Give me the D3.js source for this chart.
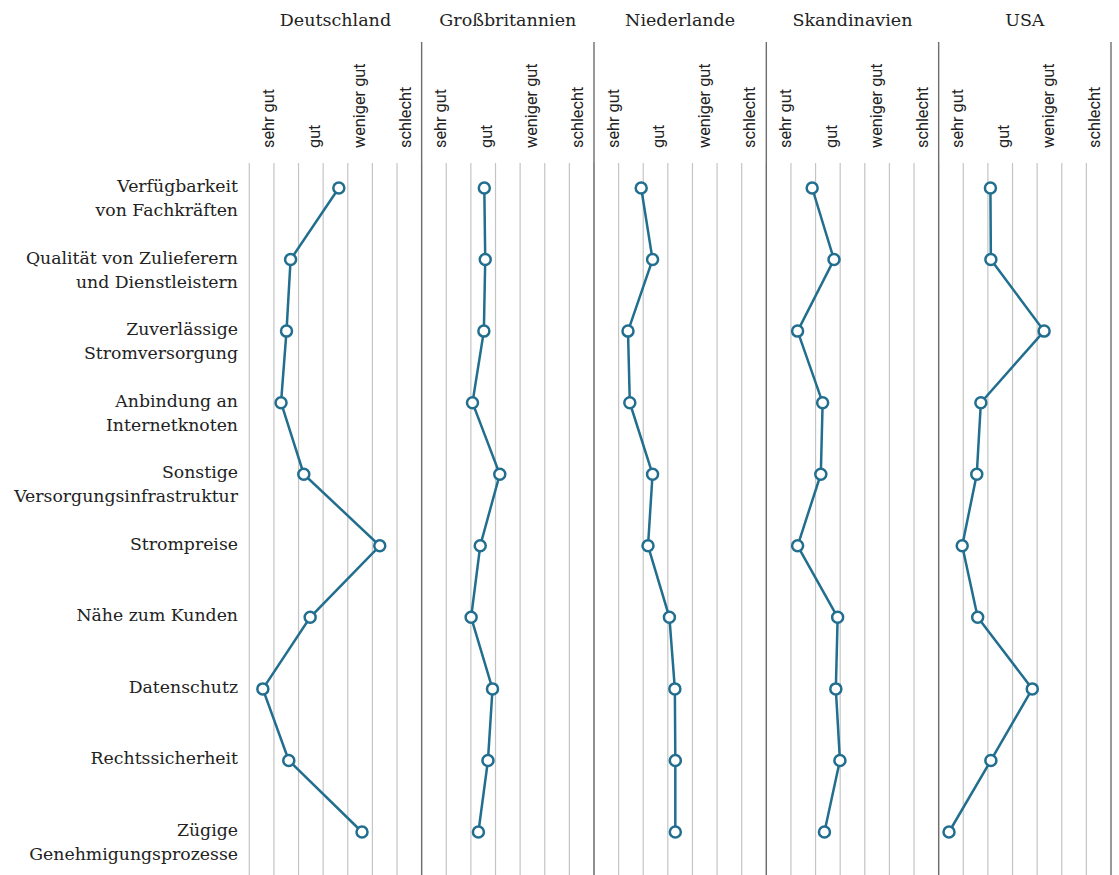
<!DOCTYPE html>
<html>
<head>
<meta charset="utf-8">
<script src="https://cdn.jsdelivr.net/npm/d3@7"></script>
<style>
  body { margin: 0; background: #fff; }
  svg { display: block; }
</style>
</head>
<body>
<svg width="1119" height="875"></svg>
<script>
// rows (factors), top to bottom; "\n" splits label lines
var factors = [
  "Verfügbarkeit\nvon Fachkräften",
  "Qualität von Zulieferern\nund Dienstleistern",
  "Zuverlässige\nStromversorgung",
  "Anbindung an\nInternetknoten",
  "Sonstige\nVersorgungsinfrastruktur",
  "Strompreise",
  "Nähe zum Kunden",
  "Datenschutz",
  "Rechtssicherheit",
  "Zügige\nGenehmigungsprozesse"
];

var countries = ["Deutschland", "Großbritannien", "Niederlande", "Skandinavien", "USA"];

// rating scale, 1 = sehr gut ... 4 = schlecht
var ratingLabels = ["sehr gut", "gut", "weniger gut", "schlecht"];

// average rating per factor, one array per country
var deutschland    = [2.55, 1.49, 1.40, 1.28, 1.78, 3.45, 1.92, 0.88, 1.45, 3.06];
var grossbritannien = [1.96, 1.98, 1.95, 1.70, 2.30, 1.87, 1.67, 2.14, 2.04, 1.83];
var niederlande    = [1.62, 1.87, 1.33, 1.37, 1.87, 1.77, 2.24, 2.36, 2.37, 2.37];
var skandinavien   = [1.59, 2.07, 1.27, 1.82, 1.78, 1.27, 2.15, 2.11, 2.20, 1.86];
var usa            = [1.72, 1.73, 2.90, 1.51, 1.42, 1.10, 1.44, 2.64, 1.73, 0.81];

var series = [deutschland, grossbritannien, niederlande, skandinavien, usa];

var svg = d3.select('svg');
var W = 1119, H = 875;
var left = 249.3, right = 1111;
var pw = (right - left) / countries.length;
var lineColor = '#216e8f';

// panel positions
var xPanel = d3.scaleBand().domain(countries).range([left, right]);
// rating -> position inside a panel
var xRate = d3.scaleLinear().domain([1, 4]).range([19, 155.5]);
// light grid, 7 lines per panel
var xGrid = d3.scaleLinear().domain([0, 7]).range([0, pw]);
// rows
var y = d3.scalePoint().domain(factors).range([188, 832]);

// row labels
var rowLab = svg.append('g')
  .selectAll('text')
  .data(factors)
  .join('text')
  .attr('x', 238)
  .attr('y', d => y(d) - 2)
  .attr('text-anchor', 'end')
  .attr('font-family', 'DejaVu Serif, serif')
  .attr('font-size', 17.3)
  .attr('fill', '#222');

rowLab.selectAll('tspan')
  .data(d => d.split('\n'))
  .join('tspan')
  .attr('x', 238)
  .attr('dy', (d, i) => i == 0 ? '0.35em' : 24)
  .text(d => d);

var panels = svg.selectAll('g.panel')
  .data(countries)
  .join('g')
  .attr('class', 'panel')
  .attr('transform', d => 'translate(' + xPanel(d) + ',0)');

// grid lines
panels.selectAll('line.grid')
  .data(d3.range(0, 7))
  .join('line')
  .attr('class', 'grid')
  .attr('x1', d => xGrid(d))
  .attr('x2', d => xGrid(d))
  .attr('y1', 163)
  .attr('y2', H)
  .attr('stroke', '#c4c4c4')
  .attr('stroke-width', 1.2);

// dark separators (not at far left)
panels.filter((d, i) => i > 0)
  .append('line')
  .attr('x1', 0).attr('x2', 0)
  .attr('y1', 42).attr('y2', H)
  .attr('stroke', '#6e6e6e')
  .attr('stroke-width', 1.4);

svg.append('line')
  .attr('x1', right).attr('x2', right)
  .attr('y1', 42).attr('y2', H)
  .attr('stroke', '#6e6e6e')
  .attr('stroke-width', 1.4);

// titles
panels.append('text')
  .attr('x', pw / 2)
  .attr('y', 20)
  .attr('dy', '0.35em')
  .attr('text-anchor', 'middle')
  .attr('font-family', 'DejaVu Serif, serif')
  .attr('font-size', 17.5)
  .attr('fill', '#222')
  .text(d => d);

// rating labels, rotated, reading upward from y=148
panels.selectAll('text.rate')
  .data(ratingLabels)
  .join('text')
  .attr('class', 'rate')
  .attr('transform', (d, i) => 'translate(' + xRate(i + 1) + ',148) rotate(-90)')
  .attr('dy', '0.35em')
  .attr('text-anchor', 'start')
  .attr('font-family', 'Roboto, sans-serif')
  .attr('font-size', 16.3)
  .attr('fill', '#222')
  .text(d => d);

// lines + points
var line = d3.line()
  .x(d => xRate(d.v))
  .y(d => y(d.f));

panels.each(function(c, ci) {
  var pts = series[ci].map((v, i) => ({ f: factors[i], v: v }));
  var g = d3.select(this);

  g.append('path')
    .datum(pts)
    .attr('d', line)
    .attr('fill', 'none')
    .attr('stroke', lineColor)
    .attr('stroke-width', 2.5);

  g.selectAll('circle')
    .data(pts)
    .join('circle')
    .attr('cx', d => xRate(d.v))
    .attr('cy', d => y(d.f))
    .attr('r', 5.5)
    .attr('fill', '#fff')
    .attr('stroke', lineColor)
    .attr('stroke-width', 2.5);
});
</script>
</body>
</html>
